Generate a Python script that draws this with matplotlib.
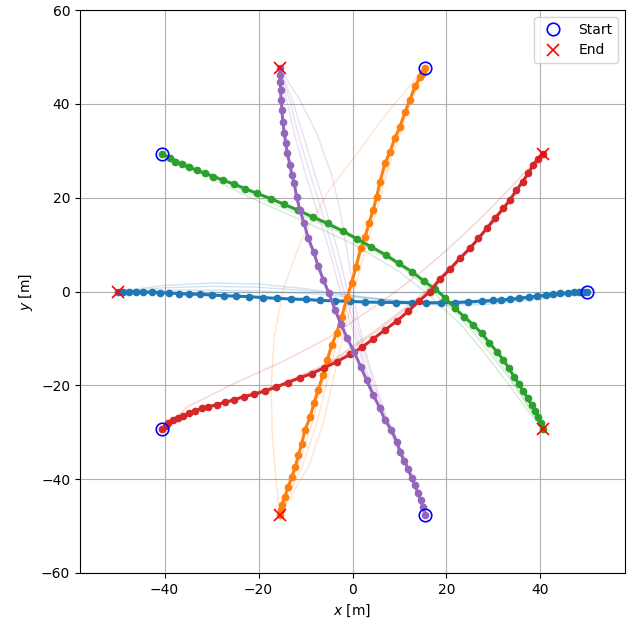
import matplotlib
matplotlib.use("Agg")
import matplotlib.pyplot as plt

# start / end of every agent (C0..C4)
start_x = [50.0, 15.45, -40.45, -40.45, 15.45]
start_y = [0.0, 47.55, 29.39, -29.39, -47.55]
end_x = [-50.0, -15.45, 40.45, 40.45, -15.45]
end_y = [0.0, -47.55, -29.39, 29.39, 47.55]

# final trajectories
blue_x = [50, 49.3, 48.3, 47.2, 45.9, 44.1, 42.7, 41.1, 39.3, 37.5, 35.4, 33.5, 31.7, 30.0, 27.5,
          24.6, 21.8, 18.8, 15.7, 12.6, 9.3, 6.0, 2.7, -0.5, -3.7, -6.9, -10.0, -13.1, -16.1,
          -19.1, -22.0, -24.7, -27.4, -30.0, -32.4, -34.8, -37.0, -39.0, -40.9, -42.7, -44.5,
          -46.1, -47.5, -48.8, -50]
blue_y = [0, -0.05, -0.1, -0.2, -0.3, -0.4, -0.6, -0.8, -1.0, -1.2, -1.45, -1.65, -1.8, -1.9, -2.05,
          -2.2, -2.35, -2.4, -2.4, -2.4, -2.35, -2.3, -2.25, -2.1, -2.0, -1.9, -1.7, -1.6, -1.45,
          -1.3, -1.1, -1.0, -0.9, -0.75, -0.6, -0.55, -0.45, -0.3, -0.25, -0.2, -0.1,
          -0.05, 0, 0, 0]

orange_x = [15.45, 15.1, 14.8, 14.4, 13.3, 12.2, 11.2, 10.1, 9.0, 8.0, 6.9, 5.85, 5.15, 4.4, 3.5, 2.7, 1.75,
            0.75, -0.2, -1.2, -2.3, -3.4, -4.4, -5.4, -6.3, -7.3, -8.2, -9.0, -10.1, -10.8, -11.5,
            -12.2, -12.9, -13.7, -14.4, -15.1, -15.3, -15.45]
orange_y = [47.55, 46.8, 46.3, 45.8, 43.7, 40.8, 38.3, 35.1, 32.7, 29.8, 27.3, 23.4, 20.2, 17.4, 14.5, 11.7, 9.2,
            5.3, 1.75, -1.45, -5.4, -8.9, -11.4, -14.6, -17.8, -21.0, -23.8, -26.7, -29.5, -32.4, -34.9,
            -37.4, -39.5, -41.6, -43.8, -45.5, -46.6, -47.55]

green_x = [-40.45, -38.8, -37.7, -36.3, -34.8, -33.1, -31.5, -29.6, -27.5, -25.2, -22.8, -20.3, -17.4,
           -14.6, -11.5, -8.5, -5.3, -2.1, 1.0, 3.9, 7.1, 9.8, 12.7, 15.2, 17.6, 19.7, 21.8, 23.8,
           25.7, 27.5, 29.1, 30.7, 32.1, 33.3, 34.4, 35.4, 36.3, 37.3, 38.1, 38.8, 39.5, 40.1, 40.45]
green_y = [29.39, 28.4, 27.7, 27.1, 26.5, 25.8, 25.2, 24.5, 23.7, 22.9, 21.9, 20.9, 19.8,
           18.6, 17.3, 15.9, 14.5, 12.9, 11.2, 9.55, 7.8, 6.0, 4.2, 2.2, 0.5, -1.3, -3.6, -5.4,
           -7.1, -8.9, -10.9, -12.8, -14.6, -16.4, -18.2, -19.7, -21.2, -22.8, -24.2, -25.4, -26.7, -28.1, -29.39]

red_x = [-40.45, -39.7, -39.2, -38.1, -37.1, -36.0, -34.7, -33.5, -32.1, -30.7, -28.9, -27.1, -25.2, -23.1,
         -20.9, -18.6, -16.3, -13.8, -11.2, -8.7, -6.1, -3.4, -0.5, 2.0, 4.4, 6.9, 9.4, 11.9, 14.2,
         16.5, 18.6, 20.7, 22.9, 25.0, 26.8, 28.6, 30.3, 32.1, 33.5, 34.9, 36.2, 37.4, 38.5, 39.4, 40.45]
red_y = [-29.39, -28.7, -28.1, -27.4, -26.9, -26.5, -26.0, -25.4, -24.9, -24.6, -24.1, -23.6, -23.1, -22.4,
         -21.9, -21.2, -20.4, -19.4, -18.4, -17.5, -16.3, -15.0, -13.4, -11.9, -10.1, -8.2, -6.3, -4.2, -2.0,
         0.0, 2.6, 4.7, 7.1, 9.2, 11.3, 13.5, 15.6, 17.7, 19.5, 21.6, 23.4, 25.2, 27.0, 28.2, 29.39]

purple_x = [15.45, 15.1, 14.5, 14.0, 13.3, 12.6, 11.9, 11.0, 10.1, 9.4, 8.3, 6.9, 5.85, 4.4, 3.0, 1.75,
            0.3, -1.1, -2.5, -3.7, -5.0, -6.2, -7.3, -8.3, -9.4, -10.3, -11.2, -11.9, -12.4, -12.9,
            -13.3, -13.9, -14.2, -14.5, -14.85, -15.0, -15.2, -15.3, -15.35, -15.4, -15.45]
purple_y = [-47.55, -45.9, -44.5, -43.0, -41.3, -39.8, -37.9, -36.1, -34.2, -32.0, -29.5, -27.4, -24.9, -22.0,
            -18.9, -16.0, -12.8, -10.0, -6.9, -3.9, -0.4, 2.45, 5.4, 8.5, 11.3, 14.5, 17.4, 20.2, 23.1,
            24.8, 27.0, 29.5, 31.6, 33.7, 36.2, 38.7, 40.8, 43.0, 44.7, 46.2, 47.55]

# earlier iterations (faint)
blue_faint_x = [-50, -40, -30, -20, -10, 0, 10, 20, 30, 40, 50]
blue_faint_y = [
    [0, 1.3, 1.8, 1.6, 0.6, -0.9, -2.3, -3.0, -2.7, -1.6, 0],
    [0, 0.8, 1.1, 0.9, 0.2, -0.9, -2.0, -2.6, -2.4, -1.4, 0],
    [0, 0.3, 0.3, 0.1, -0.4, -1.2, -2.0, -2.5, -2.3, -1.3, 0],
    [0, 0, 0, 0, 0, 0, 0, 0, 0, 0, 0],
]

orange_faint_y = [47.55, 40, 30, 20, 12, 4, -4, -12, -20, -28, -37, -47.55]
orange_faint_x = [
    [15.45, 12.0, 8.4, 5.4, 3.0, 0.6, -1.4, -3.6, -5.6, -7.6, -10.6, -15.45],
    [15.45, 12.3, 8.8, 5.9, 3.6, 1.4, -0.6, -2.6, -4.4, -6.2, -9.2, -15.45],
    [15.45, 11.8, 8.0, 5.0, 2.6, 0.2, -2.0, -4.4, -6.6, -8.6, -11.6, -15.45],
]
orange_wide_x = [15.45, 11.5, 6.5, 1.6, -5.2, -11.2, -14.8, -16.7, -17.3, -17.1, -16.3, -15.45]
orange_wide_y = [47.55, 43, 37, 30.2, 21.3, 10.3, 0.3, -10, -20, -30, -40, -47.55]

green_faint_x = [-40.45, -35, -30, -20, -10, 0, 10, 17, 23, 28, 33, 37, 40.45]
green_faint_y = [
    [29.39, 27.0, 24.6, 20.0, 15.8, 11.4, 5.5, 0.0, -5.6, -11.5, -18.0, -24.0, -29.39],
    [29.39, 26.6, 24.0, 19.2, 14.8, 10.2, 4.2, -1.4, -7.0, -13.0, -19.5, -25.0, -29.39],
    [29.39, 27.2, 25.0, 20.6, 16.2, 11.8, 6.2, 0.8, -4.8, -10.6, -17.4, -23.6, -29.39],
]

red_faint_x = [-40.45, -35, -25, -15, -5, 5, 10, 15, 20, 25, 30, 35, 40.45]
red_faint_y = [
    [-29.39, -24.5, -19.5, -15.0, -9.8, -3.0, 0.6, 4.5, 8.8, 13.4, 18.3, 23.6, 29.39],
    [-29.39, -26.0, -22.8, -19.6, -15.2, -8.2, -4.4, -0.4, 4.4, 9.6, 15.0, 21.6, 29.39],
    [-29.39, -26.2, -23.0, -19.8, -15.6, -8.6, -4.8, -0.8, 4.0, 9.2, 14.6, 21.3, 29.39],
]

purple_faint_y = [47.55, 40.8, 33.7, 25, 18, 9, 1.5, -5.4, -12.5, -19.5, -26.7, -33, -40, -47.55]
purple_faint_x = [
    [-15.45, -11.2, -7.6, -4.5, -2.8, -1.2, 0.0, 1.0, 2.7, 4.8, 7.3, 10.0, 13.0, 15.45],
    [-15.45, -13.4, -11.6, -9.0, -6.8, -4.2, -2.2, -0.2, 1.8, 3.8, 6.6, 9.6, 12.6, 15.45],
    [-15.45, -12.8, -10.6, -8.0, -5.8, -3.2, -1.4, 0.4, 2.4, 4.4, 7.0, 9.9, 12.8, 15.45],
    [-15.45, -14.0, -12.4, -10.0, -7.8, -5.0, -3.0, -0.8, 1.4, 3.5, 6.4, 9.5, 12.5, 15.45],
]

fig = plt.figure(figsize=(6.42, 6.25), dpi=100)
ax = fig.add_axes([80 / 642, 52 / 625, 545 / 642, 563 / 625])

faint = dict(alpha=0.2, lw=1)
for fy in blue_faint_y:
    ax.plot(blue_faint_x, fy, color='C0', **faint)
for fx in orange_faint_x:
    ax.plot(fx, orange_faint_y, color='C1', **faint)
ax.plot(orange_wide_x, orange_wide_y, color='C1', **faint)
for fy in green_faint_y:
    ax.plot(green_faint_x, fy, color='C2', **faint)
for fy in red_faint_y:
    ax.plot(red_faint_x, fy, color='C3', **faint)
for fx in purple_faint_x:
    ax.plot(fx, purple_faint_y, color='C4', **faint)

paths = [(blue_x, blue_y), (orange_x, orange_y), (green_x, green_y),
         (red_x, red_y), (purple_x, purple_y)]
for i, (px, py) in enumerate(paths):
    ax.plot(px, py, '-o', color=f'C{i}', lw=2.2, ms=4.5)

ax.plot(start_x, start_y, 'o', mfc='none', mec='blue', ms=9, mew=1.2, ls='none', label='Start', zorder=5)
ax.plot(end_x, end_y, 'x', color='red', ms=9, mew=1.2, ls='none', label='End', zorder=5)

ax.set_ylim(-60, 60)
ax.set_xlim(-58, 58)
ax.set_aspect('equal', adjustable='datalim')
ax.set_xticks([-40, -20, 0, 20, 40])
ax.set_yticks([-60, -40, -20, 0, 20, 40, 60])
ax.set_xlabel('$x$ [m]')
ax.set_ylabel('$y$ [m]')
ax.grid(True)
ax.legend(loc='upper right')

fig.savefig('out.png', dpi=100)
